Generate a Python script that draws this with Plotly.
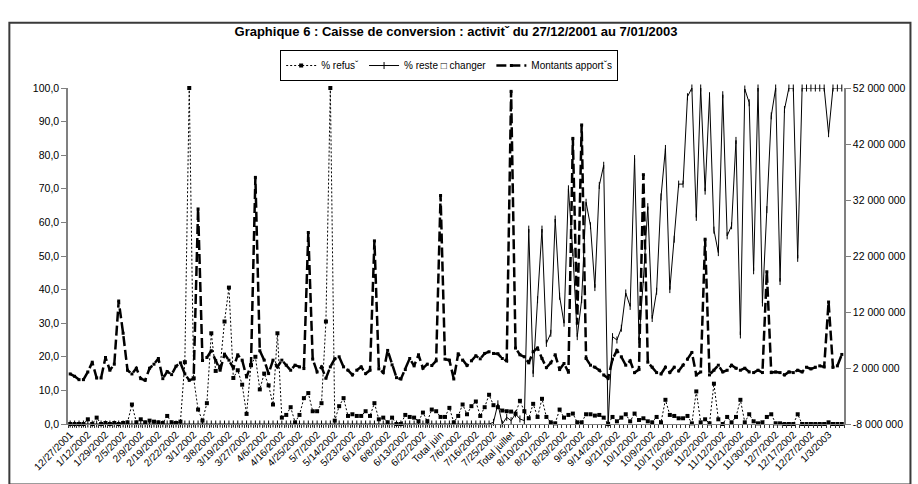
import plotly.graph_objects as go

# ---- data -------------------------------------------------------------
tick_labels = ["12/27/2001", "1/12/2002", "1/29/2002", "2/5/2002", "2/9/2002", "2/19/2002",
               "2/22/2002", "3/1/2002", "3/8/2002", "3/19/2002", "3/27/2002", "4/6/2002",
               "4/16/2002", "4/25/2002", "5/7/2002", "5/14/2002", "5/23/2002", "6/1/2002",
               "6/8/2002", "6/13/2002", "6/22/2002", "Total juin", "7/6/2002", "7/16/2002",
               "7/25/2002", "Total juillet", "8/10/2002", "8/21/2002", "8/29/2002", "9/5/2002",
               "9/14/2002", "9/21/2002", "10/1/2002", "10/9/2002", "10/17/2002", "10/26/2002",
               "11/2/2002", "11/12/2002", "11/21/2002", "11/30/2002", "12/7/2002", "12/17/2002",
               "12/27/2002", "1/3/2003"]
label_step = 4  # one label every 4 categories

# % refusé (left axis)
refus = [0, 0, 0, 0, 1.4, 0, 1.9, 0, 0.3, 0,
         0.3, 0, 0.3, 0.5, 5.8, 0.5, 1.4, 0.5, 1.0, 0.7,
         0.5, 0.3, 2.4, 0.5, 0.3, 0.7, 18.4, 100, 13.6, 4.3,
         1.0, 6.2, 27, 15.8, 17, 30.5, 40.6, 13.7, 16, 11.7,
         3, 17.5, 20, 10.3, 15, 11.5, 5.8, 27, 1.9, 2.7,
         5, 0.5, 2.7, 7.7, 9.2, 3.8, 3.8, 6.2, 30.5, 100,
         1, 5.3, 7.7, 2.4, 2.9, 2.4, 2.4, 3.8, 2.4, 6.2,
         1.4, 1.9, 0.5, 1.9, 0, 0, 2.7, 2.1, 1.9, 0.8,
         3.4, 0.8, 4.3, 3.8, 2.1, 2.1, 4.8, 0.5, 2.4, 5.8,
         2.9, 5.3, 6.7, 2.4, 5, 8.7, 5.6, 5, 4, 3.8,
         3.7, 3.1, 6.9, 3.8, 1.7, 6, 2.1, 7.5, 2.1, 0.5,
         0.2, 4.3, 1.9, 2.7, 3.1, 0.5, 0.5, 2.9, 2.9, 2.5,
         2.7, 1.9, 0, 2.1, 0.8, 1.9, 2.9, 0.8, 3.1, 1.2,
         1.7, 0.8, 0.5, 2.1, 0.5, 7.2, 2.7, 2.4, 1.7, 1.7,
         2.4, 0.2, 9.7, 0.5, 1.4, 0.2, 12, 1.4, 0, 2.1,
         0.5, 2.1, 7.2, 0.5, 2.9, 0.8, 0.2, 0.5, 2.1, 2.9,
         0.2, 0.2, 0, 0, 0, 2.9, 0, 0, 0, 0,
         0, 0, 0.5, 0, 0, 0]

# % reste à changer (left axis)
reste = [0, 0, 0, 0, 0, 0, 0, 0, 0, 0, 0, 0,
         0, 0, 0, 0, 0, 0, 0, 0, 0, 0, 0, 0,
         0, 0, 0, 0, 0, 0, 0, 0, 0, 0, 0, 0,
         0, 0, 0, 0, 0, 0, 0, 0, 0, 0, 0, 0,
         0, 0, 0, 0, 0, 0, 0, 0, 0, 0, 0, 0,
         0, 0, 0, 0, 0, 0, 0, 0, 0, 0, 0, 0,
         0, 0, 0, 0, 0, 0, 0, 0, 0, 0, 0, 0,
         0, 0, 0, 0, 0, 0, 0, 0, 0, 0, 0, 0,
         0.5, 6, 0, 2, 1, 3, 1.5, 1,
         58, 15, 37, 58, 24, 27, 61, 38, 30, 70, 51, 26, 37, 66,
         59, 40.6, 71, 77, 0, 26, 25, 28.5, 39, 35,
         79, 25, 43, 64.7, 31.4, 39.5, 67.6, 82, 40, 55,
         71.4, 71.4, 97.4, 100, 61.5, 100, 69.3, 97.7, 57.7, 51,
         98, 56, 59, 84.4, 26.5, 99.7, 95.6, 45.6, 100, 36,
         63.8, 91.7, 100, 42.4, 93.6, 100, 100, 49.3, 100,
         100, 100, 100, 100, 100, 86.4, 100, 100, 100]

# Montants apportés, in millions (right axis)
montants_m = [0.94, 0.52, -0.08, -0.08, 1.30, 3.04, 0.22, 0.22, 3.88, 1.60,
              2.68, 13.96, 8.20, 1.60, 0.94, 1.96, 0.10, -0.20, 1.96, 2.68,
              3.70, 0.10, 1.36, 0.82, 2.32, 2.92, 0.94, -0.20, 0.10, 30.40,
              3.34, 3.88, 5.08, 3.34, 1.60, 4.48, 3.40, 1.96, 4.36, 3.40,
              0.40, 2.50, 36.04, 5.08, 3.40, 1.00, 3.40, 2.20, 3.40, 2.50,
              1.60, 2.50, 2.20, 1.90, 26.20, 3.58, 1.30, 2.20, 0.16, 2.20,
              3.64, 4.00, 2.20, 1.60, 0.76, 1.60, 2.20, 1.00, 1.60, 24.70,
              1.84, 1.18, 5.14, 2.56, 0.28, 0.04, 1.72, 3.70, 2.38, 4.36,
              1.96, 2.68, 2.44, 3.28, 32.80, 3.58, 3.40, 0.04, 4.54, 3.40,
              2.44, 3.28, 4.18, 3.64, 4.60, 4.90, 4.60, 4.54, 3.70, 3.28,
              51.40, 5.56, 4.36, 4.00, 2.92, 4.90, 5.56, 3.70, 2.08, 2.92,
              4.36, 1.72, 2.80, 1.24, 43.00, 10.00, 45.40, 3.70, 2.50, 2.14,
              1.60, 0.76, 0.16, 3.58, 5.14, 4.00, 2.50, 3.28, 1.18, 1.72,
              36.52, 3.04, 2.14, 1.18, 0.94, 2.14, 1.18, 2.14, 1.48, 2.50,
              3.58, 4.78, 0.76, 1.30, 25.00, 0.76, 1.60, 2.50, 1.30, 1.60,
              2.50, 1.96, 1.60, 1.96, 1.30, 1.18, 1.60, 1.18, 19.18, 1.18,
              1.30, 1.18, 0.76, 1.30, 1.18, 1.60, 1.30, 2.14, 1.84, 2.14,
              2.38, 2.20, 13.78, 2.14, 2.38, 4.42]

left_ticks = [0, 10, 20, 30, 40, 50, 60, 70, 80, 90, 100]
left_ticktext = ["0,0", "10,0", "20,0", "30,0", "40,0", "50,0", "60,0", "70,0", "80,0", "90,0", "100,0"]
right_ticks = [-8, 2, 12, 22, 32, 42, 52]
right_ticktext = ["-8 000 000", "2 000 000", "12 000 000", "22 000 000", "32 000 000",
                  "42 000 000", "52 000 000"]

names = ["% refusˇ", "% reste \u25a1 changer", "Montants apportˇs"]

# ---- figure -----------------------------------------------------------
x = list(range(len(refus)))
FONT = "Liberation Sans, Arial, sans-serif"

fig = go.Figure()
fig.add_trace(go.Scatter(
    x=x, y=refus, name=names[0], mode="lines+markers", cliponaxis=False,
    line=dict(color="black", width=1, dash="2px,2px"),
    marker=dict(symbol="square", size=4, color="black")))
fig.add_trace(go.Scatter(
    x=x, y=reste, name=names[1], mode="lines+markers", cliponaxis=False,
    line=dict(color="black", width=1),
    marker=dict(symbol="line-ns", size=5, color="black", line=dict(color="black", width=1))))
fig.add_trace(go.Scatter(
    x=list(range(len(montants_m))), y=montants_m, name=names[2], yaxis="y2",
    mode="lines+markers", cliponaxis=False,
    line=dict(color="black", width=2.5, dash="10px,4px"),
    marker=dict(symbol="square", size=3, color="black")))

W, H = 918, 484
L, R, T, B = 68, 56, 88, 51
pw, ph = W - L - R, H - T - B

def px_x(v):
    return (v - L) / pw

def px_y(v):
    return (H - B - v) / ph

fig.update_layout(
    width=W, height=H,
    margin=dict(l=L, r=R, t=T, b=B),
    paper_bgcolor="white", plot_bgcolor="white",
    font=dict(family=FONT, size=10, color="black"),
    title=dict(text="<b>Graphique 6 : Caisse de conversion : activitˇ du 27/12/2001 au 7/01/2003</b>",
               x=456 / W, xanchor="center", y=1 - 31 / H, yanchor="middle",
               font=dict(family=FONT, size=13, color="black")),
    showlegend=True,
    legend=dict(orientation="h", x=px_x(458), xanchor="center", y=px_y(49), yanchor="top",
                bordercolor="black", borderwidth=1, bgcolor="white",
                font=dict(family=FONT, size=10, color="black"), itemwidth=30),
    xaxis=dict(range=[-0.5, len(refus) - 0.5], tickmode="array",
               tickvals=[i * label_step for i in range(len(tick_labels))],
               ticktext=tick_labels, tickangle=-45, ticks="",
               tickfont=dict(family=FONT, size=10),
               showline=True, linecolor="#808080", linewidth=1,
               showgrid=False, zeroline=False,
               minor=dict(tickmode="linear", tick0=-0.5, dtick=1, ticks="outside",
                          ticklen=3, tickwidth=1, tickcolor="#333333")),
    yaxis=dict(range=[0, 100], tickmode="array", tickvals=left_ticks, ticktext=left_ticktext,
               ticks="outside", ticklen=5, tickcolor="#808080", tickfont=dict(family=FONT, size=10.5),
               showline=True, linecolor="#808080", linewidth=1.5, showgrid=False, zeroline=False),
    yaxis2=dict(range=[-8, 52], overlaying="y", side="right", tickmode="array",
                tickvals=right_ticks, ticktext=right_ticktext,
                ticks="outside", ticklen=5, tickcolor="#808080", tickfont=dict(family=FONT, size=10.5),
                showline=True, linecolor="#808080", linewidth=1.5, showgrid=False, zeroline=False),
    shapes=[dict(type="rect", xref="paper", yref="paper",
                 x0=px_x(8), x1=px_x(930), y0=px_y(495), y1=px_y(21),
                 line=dict(color="#3a3a3a", width=2), fillcolor="rgba(0,0,0,0)", layer="below")],
)

fig.write_html("out.html")
